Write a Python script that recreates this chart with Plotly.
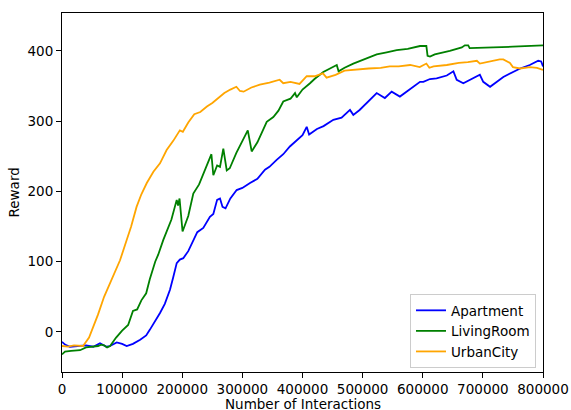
import plotly.graph_objects as go

# ---- Data ----
x_ticks = [0, 100000, 200000, 300000, 400000, 500000, 600000, 700000, 800000]
x_tick_labels = ["0", "100000", "200000", "300000", "400000", "500000", "600000", "700000", "800000"]
y_ticks = [0, 100, 200, 300, 400]
y_tick_labels = ["0", "100", "200", "300", "400"]

apartment_x = [0, 5000, 13000, 30000, 40000, 52000, 63200, 74000, 80000, 91000, 100000, 107600,
               118000, 130000, 140000, 146000, 155000, 163000, 171000, 179600, 185000, 190800,
               196000, 201700, 210000, 218400, 225000, 235000, 246000, 251700, 258000, 262800,
               267000, 272000, 280000, 290500, 300000, 312700, 325000, 337600, 345000, 357000,
               368000, 379000, 390000, 400000, 407000, 411000, 424000, 435000, 451300, 465000,
               479000, 484500, 495000, 506800, 523400, 537000, 548300, 562000, 584300, 595500,
               601000, 612000, 623000, 640000, 651000, 656500, 667500, 682000, 695000, 700600,
               712000, 734000, 750000, 762000, 778000, 792000, 797000, 800000]
apartment_y = [-14, -18, -21, -20, -19, -21, -16, -21, -20, -15, -17, -20,
               -17, -11, -5, 3, 15, 27, 40, 60, 78, 98,
               103, 105, 115, 131, 142, 148, 164, 168, 188, 190,
               178, 176, 190, 202, 205, 212, 218, 231, 235, 245,
               253, 264, 272, 280, 292, 281, 289, 293, 302, 305,
               316, 309, 316, 326, 340, 333, 342, 335, 349, 356,
               356, 360, 361, 365, 371, 359, 354, 360, 366, 356,
               349, 363, 370, 375, 380, 386, 385, 378]

living_x = [0, 5000, 15000, 30000, 40000, 50000, 60000, 65000, 70000, 75000, 80000, 90000,
            100000, 110000, 118000, 125000, 132000, 140000, 146000, 155000, 160000, 168500,
            175000, 182000, 190800, 193000, 195500, 197000, 200500, 210000, 218400, 228000,
            238000, 246000, 248500, 251700, 258000, 262800, 268300, 274000, 279000, 290000,
            300000, 307000, 309000, 315500, 325000, 340500, 351500, 360000, 368000, 380000,
            387600, 390500, 393000, 400000, 412500, 420000, 434600, 445000, 457000, 460000,
            470000, 484500, 500000, 523400, 540000, 556700, 575000, 595500, 606000, 608000,
            612000, 620000, 645000, 665000, 670000, 675600, 678000, 700000, 717000, 750000,
            780000, 800000]
living_y = [-32, -28, -27, -26, -22, -21, -20, -18, -19, -22, -20, -8,
            2, 10, 30, 32, 45, 55, 75, 100, 110, 131,
            145, 160, 188, 180, 190, 175, 143, 165, 197, 210,
            232, 250, 253, 223, 237, 235, 261, 230, 233, 255,
            272, 285, 287, 257, 270, 299, 306, 315, 328, 332,
            340, 334, 337, 345, 354, 360, 370, 375, 380, 371,
            376, 382, 387, 395, 398, 401, 403, 407, 407, 393,
            392, 395, 400, 405, 408, 408, 404, 405, 405, 406,
            407, 408]

urban_x = [0, 10000, 20000, 30000, 35000, 45000, 52000, 60000, 70000, 80000, 90000, 96500,
           107600, 115000, 124000, 132000, 141000, 152000, 163000, 174000, 185000, 196000,
           201000, 210000, 220000, 230000, 241000, 250000, 260000, 270000, 280000, 290000,
           296000, 302000, 315000, 329000, 345000, 362000, 368000, 380000, 395000, 407000,
           420000, 434000, 440000, 455000, 470000, 490000, 510000, 530000, 545000, 560000,
           579000, 595000, 606000, 611000, 618000, 640000, 660000, 675000, 690000, 695000,
           710000, 728000, 734000, 745000, 750000, 762000, 778000, 790000, 800000]
urban_y = [-20, -21, -19, -20, -20, -8, 7, 25, 50, 70, 88, 102,
           131, 150, 178, 196, 212, 228, 240, 259, 272, 287,
           285, 298, 310, 313, 321, 326, 333, 340, 345, 349,
           343, 342, 348, 352, 355, 359, 354, 356, 353, 364,
           364, 368, 362, 366, 372, 374, 375, 376, 378, 378,
           380, 377, 382, 376, 378, 380, 383, 384, 386, 382,
           385, 388, 388, 383, 377, 375, 377, 376, 373]

series = [
    ("Apartment", apartment_x, apartment_y, "blue"),
    ("LivingRoom", living_x, living_y, "green"),
    ("UrbanCity", urban_x, urban_y, "orange"),
]

fig = go.Figure()
for name, xs, ys, color in series:
    fig.add_trace(go.Scatter(x=xs, y=ys, mode="lines", name=name,
                             line=dict(color=color, width=1.8)))

font = dict(family="DejaVu Sans", size=13.5, color="black")
axis_common = dict(showline=True, linecolor="black", linewidth=1, mirror=True,
                   ticks="outside", ticklen=5, tickwidth=1, tickcolor="black",
                   showgrid=False, zeroline=False, tickfont=font, automargin=False)

fig.update_layout(
    width=571, height=410,
    margin=dict(l=62, r=28, t=13, b=38),
    paper_bgcolor="white", plot_bgcolor="white",
    font=font,
    showlegend=True,
    legend=dict(x=0.9854, y=0.011, xanchor="right", yanchor="bottom",
                bordercolor="#cccccc", borderwidth=1, bgcolor="rgba(255,255,255,0.8)",
                font=font, tracegroupgap=0),
    xaxis=dict(range=[0, 800000], tickvals=x_ticks, ticktext=x_tick_labels,
               **axis_common),
    yaxis=dict(range=[-57, 454], tickvals=y_ticks, ticktext=y_tick_labels,
               **axis_common),
    annotations=[
        dict(text="Number of Interactions", xref="paper", yref="paper",
             x=0.5, y=-0.0891, xanchor="center", yanchor="middle",
             showarrow=False, font=font),
        dict(text="Reward", xref="paper", yref="paper",
             x=-0.0998, y=0.5, xanchor="center", yanchor="middle",
             textangle=-90, showarrow=False, font=font),
    ],
)

fig.write_html("out.html", config={"displayModeBar": False},
               post_script="document.body.style.margin='0';")
